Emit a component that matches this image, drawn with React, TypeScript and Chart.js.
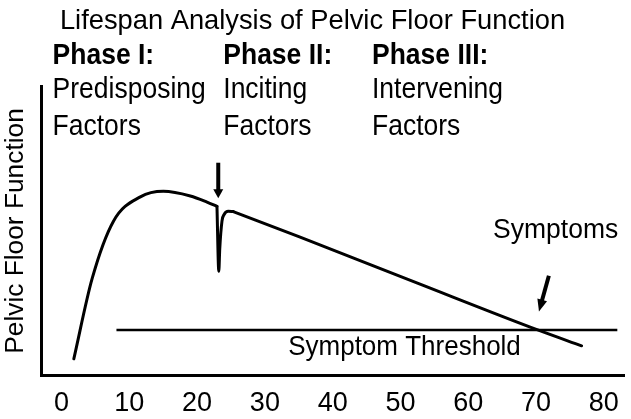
import React, { useEffect, useRef } from "react";
import { Chart, registerables } from "chart.js";

Chart.register(...registerables);

// ---- data ----
const xTickValues = [0, 10, 20, 30, 40, 50, 60, 70, 80];

// Pelvic floor function curve (age, function level)
const ages = [1.81, 4.52, 7.66, 11.63, 15.02, 19.0, 21.46, 22.93, 23.2, 23.34, 23.67, 24.01, 24.59, 25.33, 35.2, 52.7, 70.25, 76.73];
const functionValues = [5.8, 33.6, 53.4, 61.8, 63.7, 62.1, 60.0, 58.5, 36.1, 43.8, 53.4, 55.8, 56.8, 56.7, 47.9, 31.8, 15.8, 10.3];
// index boundaries of the smooth rise, the childbirth dip, and the linear decline
const spikeStartIndex = 7;
const declineStartIndex = 13;

const thresholdAges = [8.1, 82.0];
const thresholdValues = [15.8, 15.8];

const phaseNames = ["Phase I:", "Phase II:", "Phase III:"];
const phaseLine1 = ["Predisposing", "Inciting", "Intervening"];
const phaseLine2 = ["Factors", "Factors", "Factors"];
const phaseAges = [-1.33, 23.86, 45.8];
const phaseRowLevels = [107.9, 95.9, 83.2];

const arrowTails = [
  { x: 23.12, y: 73.6 },
  { x: 71.9, y: 34.5 },
];
const arrowTips = [
  { x: 23.12, y: 61.3 },
  { x: 70.44, y: 22.2 },
];

const symptomsLabel = { text: "Symptoms", x: 72.9, y: 47.6 };
const thresholdLabel = { text: "Symptom Threshold", x: 50.6, y: 7.2 };

const FONT = '"Liberation Sans", Arial, Helvetica, sans-serif';

const pts = (from: number, to: number) =>
  ages.slice(from, to + 1).map((a, i) => ({ x: a, y: functionValues[from + i] }));

const annotationPlugin = {
  id: "annotations",
  afterDraw(chart: any) {
    const { ctx } = chart;
    const xs = chart.scales.x;
    const ys = chart.scales.y;
    const px = (v: number) => xs.getPixelForValue(v);
    const py = (v: number) => ys.getPixelForValue(v);

    const drawText = (t: string, x: number, y: number, font: string, align: CanvasTextAlign, sy: number) => {
      ctx.save();
      ctx.font = font;
      ctx.textAlign = align;
      ctx.textBaseline = "alphabetic";
      ctx.fillStyle = "#000";
      ctx.translate(x, y);
      ctx.scale(1, sy);
      ctx.fillText(t, 0, 0);
      ctx.restore();
    };

    phaseAges.forEach((a, i) => {
      const x = px(a);
      drawText(phaseNames[i], x, py(phaseRowLevels[0]), `bold 26.5px ${FONT}`, "left", 1.1);
      drawText(phaseLine1[i], x, py(phaseRowLevels[1]), `26.5px ${FONT}`, "left", 1.1);
      drawText(phaseLine2[i], x, py(phaseRowLevels[2]), `26.5px ${FONT}`, "left", 1.1);
    });

    drawText(symptomsLabel.text, px(symptomsLabel.x), py(symptomsLabel.y), `26.5px ${FONT}`, "center", 1.05);
    drawText(thresholdLabel.text, px(thresholdLabel.x), py(thresholdLabel.y), `26px ${FONT}`, "center", 1.05);

    arrowTails.forEach((tail, i) => {
      const tip = arrowTips[i];
      const x1 = px(tail.x), y1 = py(tail.y);
      const x2 = px(tip.x), y2 = py(tip.y);
      const dx = x2 - x1, dy = y2 - y1;
      const len = Math.sqrt(dx * dx + dy * dy);
      const ux = dx / len, uy = dy / len;
      const headLen = i === 0 ? 9 : 12;
      const headW = 10;
      const bx = x2 - ux * headLen, by = y2 - uy * headLen;
      ctx.save();
      ctx.strokeStyle = "#000";
      ctx.fillStyle = "#000";
      ctx.lineWidth = 4;
      ctx.beginPath();
      ctx.moveTo(x1, y1);
      ctx.lineTo(bx + ux, by + uy);
      ctx.stroke();
      ctx.beginPath();
      ctx.moveTo(x2, y2);
      ctx.lineTo(bx - uy * headW / 2, by + ux * headW / 2);
      ctx.lineTo(bx + uy * headW / 2, by - ux * headW / 2);
      ctx.closePath();
      ctx.fill();
      ctx.restore();
    });
  },
};

export default function App() {
  const canvasRef = useRef<HTMLCanvasElement | null>(null);

  useEffect(() => {
    const canvas = canvasRef.current;
    if (!canvas) return;
    Chart.defaults.font.family = FONT;
    Chart.defaults.color = "#000";

    const curveStyle = {
      borderColor: "#000",
      borderWidth: 3,
      pointRadius: 0,
      fill: false,
      borderCapStyle: "round",
      borderJoinStyle: "round",
    };

    const chart = new Chart(canvas, {
      type: "line",
      data: {
        datasets: [
          { label: "Pelvic Floor Function", data: pts(0, spikeStartIndex), cubicInterpolationMode: "monotone", ...curveStyle },
          { label: "Pelvic Floor Function (dip)", data: pts(spikeStartIndex, declineStartIndex), cubicInterpolationMode: "monotone", ...curveStyle },
          { label: "Pelvic Floor Function (decline)", data: pts(declineStartIndex, ages.length - 1), cubicInterpolationMode: "monotone", ...curveStyle },
          {
            label: "Symptom Threshold",
            data: thresholdAges.map((a, i) => ({ x: a, y: thresholdValues[i] })),
            borderColor: "#000",
            borderWidth: 2.5,
            pointRadius: 0,
            tension: 0,
            fill: false,
          },
        ],
      },
      options: {
        responsive: false,
        animation: false,
        devicePixelRatio: 1,
        layout: { padding: { left: 0, right: 6, top: 0, bottom: -13 } },
        plugins: {
          legend: { display: false },
          tooltip: { enabled: false },
          title: {
            display: true,
            text: "Lifespan Analysis of Pelvic Floor Function",
            color: "#000",
            font: { size: 27.3, weight: "normal", family: FONT },
            padding: { top: 5, bottom: 48.6 },
          },
        },
        scales: {
          x: {
            type: "linear",
            min: -2.95,
            max: 83.1,
            grid: { display: false, drawTicks: false },
            border: { display: true, width: 3, color: "#000" },
            ticks: {
              stepSize: 10,
              includeBounds: false,
              color: "#000",
              font: { size: 27, family: FONT },
              padding: 12,
              maxRotation: 0,
              autoSkip: false,
              callback: (v: any) => (xTickValues.includes(Number(v)) ? String(v) : null),
            },
          },
          y: {
            min: 0,
            max: 100,
            grid: { display: false, drawTicks: false },
            border: { display: true, width: 3, color: "#000" },
            ticks: { display: false },
            title: {
              display: true,
              text: "Pelvic Floor Function",
              color: "#000",
              font: { size: 26.3, family: FONT },
              padding: { top: 0, bottom: 10 },
            },
          },
        },
      },
      plugins: [annotationPlugin],
    } as any);

    return () => chart.destroy();
  }, []);

  return (
    <div style={{ position: "fixed", left: 0, top: 0, width: 631, height: 419, background: "#fff" }}>
      <canvas ref={canvasRef} width={631} height={419} />
    </div>
  );
}
